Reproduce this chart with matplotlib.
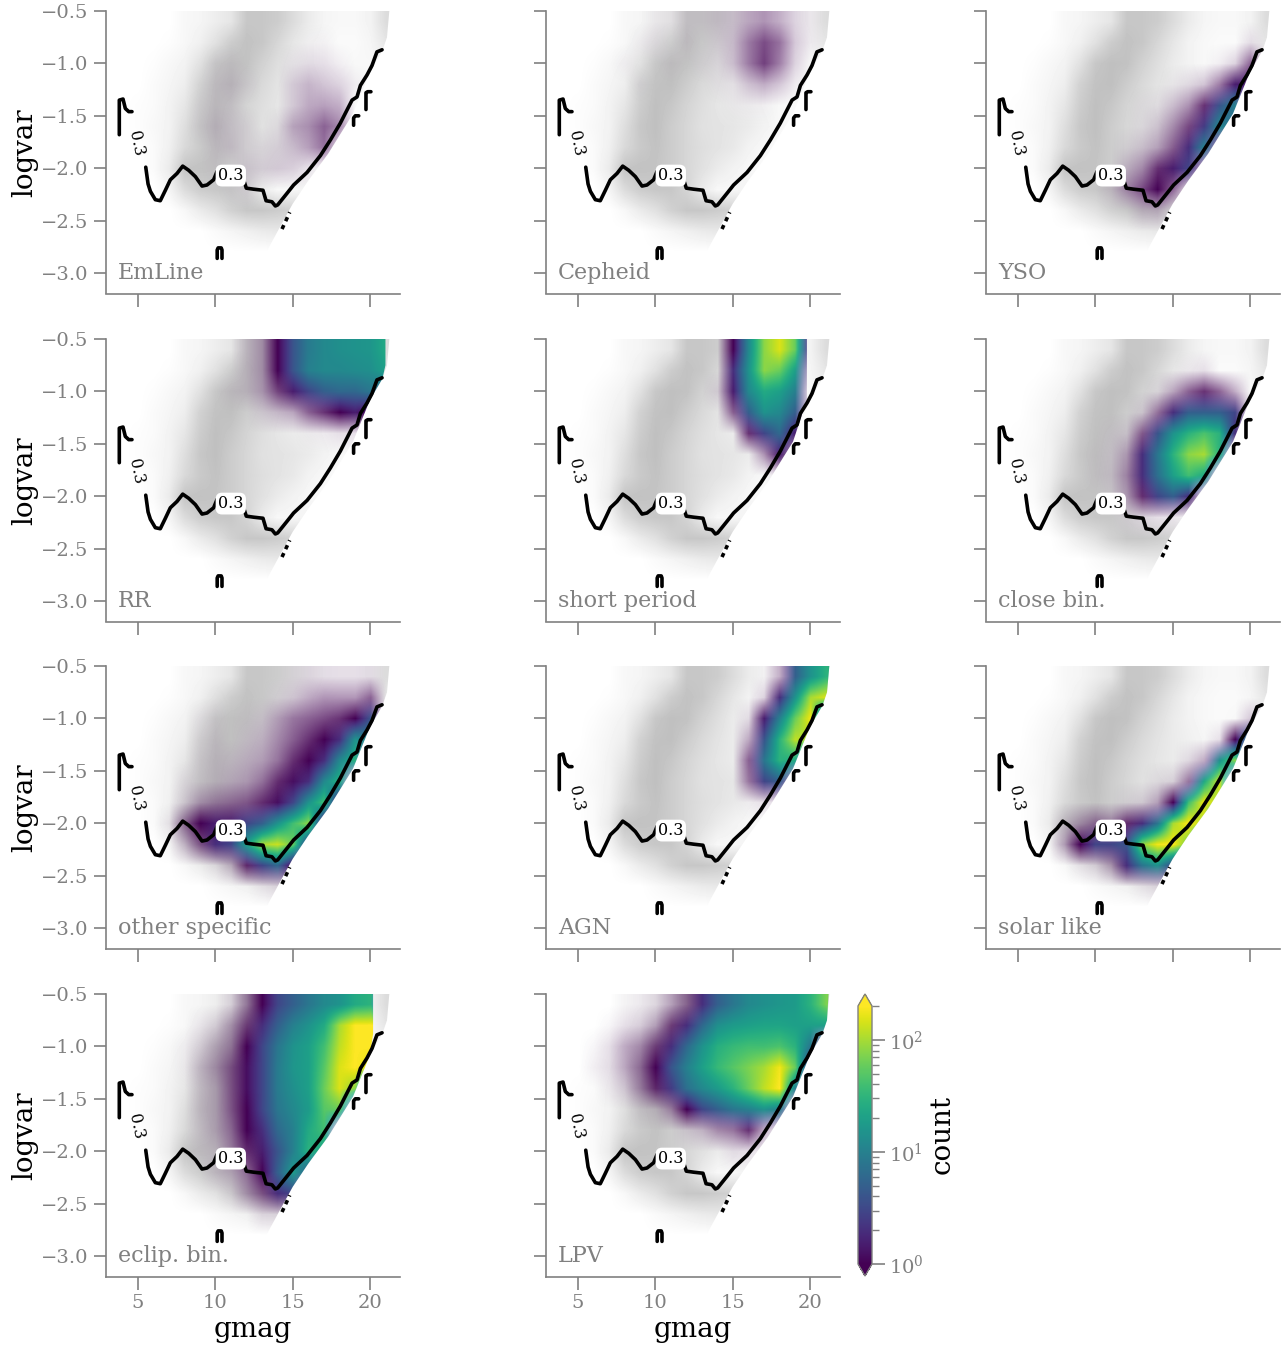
import matplotlib
matplotlib.use('Agg')
import matplotlib.pyplot as plt
import numpy as np
from matplotlib.colors import LogNorm
from matplotlib.patches import Polygon
from matplotlib.cm import ScalarMappable

# grid of the read-off maps: columns gmag 4..21, rows logvar -0.6..-2.8
gmag_edges = [3.5, 21.5]
logvar_edges = [-2.9, -0.5]

# background brightness of the whole sample (1 = nothing there)
bg_level = [
    [1, 1, 1, 1, .97, .96, .93, .90, .78, .78, .80, .86, .92, .96, .97, .97, .95, .86],
    [1, 1, 1, .99, .97, .94, .88, .80, .76, .78, .84, .90, .95, .97, .98, .98, .96, .90],
    [1, 1, .99, .97, .95, .88, .78, .75, .76, .82, .87, .92, .95, .97, .98, .97, .97, .95],
    [1, 1, .98, .96, .93, .82, .76, .75, .80, .85, .89, .92, .94, .96, .97, .97, .97, 1],
    [1, .99, .98, .95, .90, .80, .75, .78, .83, .87, .90, .92, .94, .96, .97, .98, 1, 1],
    [1, .99, .97, .95, .87, .78, .75, .80, .84, .88, .89, .90, .92, .95, .97, .98, 1, 1],
    [1, 1, .98, .94, .85, .79, .76, .80, .84, .87, .89, .91, .95, .97, .98, 1, 1, 1],
    [1, 1, .98, .92, .77, .76, .77, .80, .84, .88, .92, .95, .97, .98, 1, 1, 1, 1],
    [1, 1, 1, .96, .86, .80, .78, .78, .83, .92, .97, .97, .95, .90, 1, 1, 1, 1],
    [1, 1, 1, 1, .97, .92, .88, .82, .78, .78, .80, .82, .88, 1, 1, 1, 1, 1],
    [1, 1, 1, 1, 1, 1, .98, .96, .94, .92, .91, .92, 1, 1, 1, 1, 1, 1],
    [1, 1, 1, 1, 1, 1, 1, 1, 1, 1, 1, 1, 1, 1, 1, 1, 1, 1],
]

# lower edge of the sample
edge_gmag = [2.9, 21.25, 21.1, 20.8, 20.0, 18.9, 17.3, 16.0, 15.0, 14.4, 13.3, 2.9]
edge_logvar = [-0.5, -0.5, -0.75, -0.88, -1.08, -1.48, -1.86, -2.12, -2.34, -2.5, -2.8, -2.8]

# counts per map cell, values below 1 mean only some cells are filled
emline = [
    [0, 0, 0, 0, 0, 0, 0, 0, 0, 0, 0, 0, 0, 0, 0, 0, 0, 0],
    [0, 0, 0, 0, 0, 0, 0, 0, 0, 0, 0, 0, .02, .03, 0, 0, 0, 0],
    [0, 0, 0, 0, 0, 0, .02, .03, 0, 0, 0, .05, .1, .1, .05, 0, 0, 0],
    [0, 0, 0, 0, 0, 0, .05, .08, .04, 0, 0, .15, .25, .2, .15, .05, 0, 0],
    [0, 0, 0, 0, 0, .02, .05, .05, 0, 0, 0, .15, .3, .35, .3, 0, 0, 0],
    [0, 0, 0, 0, 0, .03, .1, .08, .05, 0, .05, .3, .4, .6, .45, 0, 0, 0],
    [0, 0, 0, 0, 0, 0, .06, .1, .05, .05, .1, .2, .35, .55, .1, 0, 0, 0],
    [0, 0, 0, 0, 0, 0, .03, 0, .1, .1, .15, .15, .08, 0, 0, 0, 0, 0],
    [0, 0, 0, 0, 0, 0, 0, .02, .05, 0, 0, 0, 0, 0, 0, 0, 0, 0],
    [0] * 18,
    [0] * 18,
    [0] * 18,
]
cepheid = [
    [0, 0, 0, 0, 0, 0, .03, .03, .05, .05, .1, .15, .3, .4, .3, .15, .05, 0],
    [0, 0, 0, 0, 0, .03, .05, 0, .05, 0, .08, .2, .5, .7, .55, .2, .05, 0],
    [0, 0, 0, 0, .03, 0, 0, .03, 0, .03, .05, .2, .5, .75, .5, .15, 0, 0],
    [0, 0, 0, 0, 0, .02, 0, 0, 0, 0, .03, .05, .2, .3, .2, .05, 0, 0],
    [0, 0, 0, 0, 0, 0, 0, 0, 0, 0, 0, .02, .03, .03, 0, 0, 0, 0],
    [0] * 18,
    [0] * 18,
    [0] * 18,
    [0] * 18,
    [0] * 18,
    [0] * 18,
    [0] * 18,
]
yso = [
    [0] * 18,
    [0, 0, 0, 0, 0, 0, 0, 0, 0, 0, 0, 0, 0, 0, 0, 0, .1, 0],
    [0, 0, 0, 0, 0, 0, 0, 0, 0, 0, 0, 0, 0, 0, .05, .15, .6, 0],
    [0, 0, 0, 0, 0, 0, 0, 0, 0, 0, 0, .03, .1, .2, .5, 1.5, 1.5, 0],
    [0, 0, 0, 0, 0, 0, 0, 0, 0, .03, .05, .2, .4, .8, 4, 10, 0, 0],
    [0, 0, 0, 0, 0, 0, 0, 0, 0, .05, .15, .4, .7, 2.5, 12, 6, 0, 0],
    [0, 0, 0, 0, 0, 0, 0, 0, .05, .15, .3, .6, 2, 10, .5, 0, 0, 0],
    [0, 0, 0, 0, 0, 0, 0, 0, .2, .4, .8, 1.5, 3, .3, 0, 0, 0, 0],
    [0, 0, 0, 0, 0, 0, 0, .1, .4, .7, 1, .6, .05, 0, 0, 0, 0, 0],
    [0, 0, 0, 0, 0, 0, 0, 0, 0, .15, .2, 0, 0, 0, 0, 0, 0, 0],
    [0] * 18,
    [0] * 18,
]
rr = [
    [0, 0, 0, 0, 0, 0, 0, 0, .1, .3, 1, 4, 9, 12, 14, 15, 16, 25],
    [0, 0, 0, 0, 0, 0, 0, 0, .1, .3, 1, 4, 10, 12, 12, 13, 14, 20],
    [0, 0, 0, 0, 0, 0, 0, .05, .1, .3, .7, 1.5, 3, 5, 6, 6, 8, 5],
    [0, 0, 0, 0, 0, 0, 0, 0, 0, .1, .2, .3, .6, .8, 1, 1.5, 1, 0],
    [0, 0, 0, 0, 0, 0, 0, 0, 0, 0, 0, 0, .03, .05, .1, .1, 0, 0],
    [0] * 18,
    [0] * 18,
    [0] * 18,
    [0] * 18,
    [0] * 18,
    [0] * 18,
    [0] * 18,
]
short_period = [
    [0, 0, 0, 0, 0, 0, 0, 0, 0, 0, 0, 1, 12, 80, 150, 60, .8, 0],
    [0, 0, 0, 0, 0, 0, 0, 0, 0, 0, 0, 2, 15, 80, 60, 20, .3, 0],
    [0, 0, 0, 0, 0, 0, 0, 0, 0, 0, .1, 1.5, 12, 25, 20, 10, 0, 0],
    [0, 0, 0, 0, 0, 0, 0, 0, 0, 0, 0, .6, 5, 15, 12, 5, 0, 0],
    [0, 0, 0, 0, 0, 0, 0, 0, 0, 0, 0, 0, .8, 3, 6, 1.5, 0, 0],
    [0, 0, 0, 0, 0, 0, 0, 0, 0, 0, 0, 0, 0, .4, 1.5, .3, 0, 0],
    [0, 0, 0, 0, 0, 0, 0, 0, 0, 0, 0, 0, 0, 0, .1, .05, 0, 0],
    [0] * 18,
    [0] * 18,
    [0] * 18,
    [0] * 18,
    [0] * 18,
]
close_bin = [
    [0] * 18,
    [0, 0, 0, 0, 0, 0, 0, 0, 0, 0, 0, 0, .05, .1, 0, 0, 0, 0],
    [0, 0, 0, 0, 0, 0, 0, 0, 0, 0, .05, .3, .6, .8, .6, .3, 0, 0],
    [0, 0, 0, 0, 0, 0, 0, 0, 0, .1, .5, 2, 5, 5, 5, 3, 0, 0],
    [0, 0, 0, 0, 0, 0, 0, .05, .1, .6, 4, 15, 30, 45, 30, 2, 0, 0],
    [0, 0, 0, 0, 0, 0, .02, .08, .3, 2, 8, 30, 80, 100, 30, 0, 0, 0],
    [0, 0, 0, 0, 0, 0, .03, .1, .4, 2, 7, 20, 40, 25, 0, 0, 0, 0],
    [0, 0, 0, 0, 0, 0, 0, .05, .3, .8, 3, 5, 2, 0, 0, 0, 0, 0],
    [0, 0, 0, 0, 0, 0, 0, 0, .05, .1, .1, .08, 0, 0, 0, 0, 0, 0],
    [0] * 18,
    [0] * 18,
    [0] * 18,
]
other_specific = [
    [0, 0, 0, 0, 0, 0, 0, 0, 0, 0, 0, .05, .1, .1, .1, .1, .1, 0],
    [0, 0, 0, 0, 0, 0, .01, 0, 0, 0, .05, .15, .3, .4, .4, .4, .6, 0],
    [0, 0, 0, 0, 0, .03, .03, 0, .03, .1, .3, .5, .6, .7, .8, 1, 4, 0],
    [0, 0, 0, 0, 0, .03, .06, 0, .1, .2, .4, .6, .8, 1, 2, 15, 10, 0],
    [0, 0, 0, 0, 0, .05, .08, .1, .2, .3, .5, .8, 1, 2, 12, 30, 0, 0],
    [0, 0, 0, 0, .05, .05, .1, .2, .3, .5, .8, 1.2, 2, 12, 30, 0, 0, 0],
    [0, 0, 0, 0, .1, .3, .4, .5, .6, .8, 1.2, 3, 15, 40, 1, 0, 0, 0],
    [0, 0, 0, .05, .5, 1, 1.5, 1.5, 3, 5, 15, 40, 80, 1, 0, 0, 0, 0],
    [0, 0, 0, 0, .2, .6, 2, 3, 20, 100, 130, 60, 2, 0, 0, 0, 0, 0],
    [0, 0, 0, 0, 0, 0, .05, .2, .8, 3, 6, 1, 0, 0, 0, 0, 0, 0],
    [0, 0, 0, 0, 0, 0, 0, 0, 0, .05, .1, 0, 0, 0, 0, 0, 0, 0],
    [0] * 18,
]
agn = [
    [0, 0, 0, 0, 0, 0, 0, 0, 0, 0, 0, 0, 0, .02, .3, 5, 15, 30],
    [0, 0, 0, 0, 0, 0, 0, 0, 0, 0, 0, 0, 0, .15, 2, 15, 100, 150],
    [0, 0, 0, 0, 0, 0, 0, 0, 0, 0, 0, 0, .1, 1.5, 10, 60, 180, 1],
    [0, 0, 0, 0, 0, 0, 0, 0, 0, 0, 0, 0, .3, 4, 30, 120, 100, 0],
    [0, 0, 0, 0, 0, 0, 0, 0, 0, 0, 0, 0, .6, 8, 30, 25, 0, 0],
    [0, 0, 0, 0, 0, 0, 0, 0, 0, 0, 0, 0, .5, 3, 5, .3, 0, 0],
    [0, 0, 0, 0, 0, 0, 0, 0, 0, 0, 0, 0, .03, .1, .1, 0, 0, 0],
    [0] * 18,
    [0] * 18,
    [0] * 18,
    [0] * 18,
    [0] * 18,
]
solar_like = [
    [0] * 18,
    [0] * 18,
    [0, 0, 0, 0, 0, 0, 0, 0, 0, 0, 0, 0, 0, 0, 0, 0, .2, 0],
    [0, 0, 0, 0, 0, 0, 0, 0, 0, 0, 0, 0, 0, 0, .1, 1, 15, 0],
    [0, 0, 0, 0, 0, 0, 0, 0, 0, 0, 0, 0, .1, .3, 15, 80, 0, 0],
    [0, 0, 0, 0, 0, 0, 0, 0, 0, 0, .05, .1, .5, 25, 150, 0, 0, 0],
    [0, 0, 0, 0, 0, 0, 0, 0, .05, .1, .3, 1, 40, 180, 100, 0, 0, 0],
    [0, 0, 0, 0, .1, .3, .5, .4, .8, 2, 8, 100, 200, 100, 0, 0, 0, 0],
    [0, 0, 0, 0, .3, 1, 3, 3, 4, 80, 180, 200, 60, 0, 0, 0, 0, 0],
    [0, 0, 0, 0, 0, .05, .1, .3, 2, 8, 15, 3, 0, 0, 0, 0, 0, 0],
    [0, 0, 0, 0, 0, 0, 0, 0, 0, .05, .1, 0, 0, 0, 0, 0, 0, 0],
    [0] * 18,
]
eclip_bin = [
    [0, 0, 0, 0, 0, 0, 0, .1, .4, 1, 3, 5, 8, 12, 15, 25, 30, 0],
    [0, 0, 0, 0, 0, .05, .1, .3, .7, 2, 5, 10, 15, 25, 100, 200, 200, 200],
    [0, 0, 0, 0, .03, .1, .2, .4, 1, 3, 8, 15, 20, 40, 120, 200, 200, 100],
    [0, 0, 0, 0, .03, .15, .3, .6, 1.2, 3, 9, 16, 20, 50, 150, 200, 150, 0],
    [0, 0, 0, 0, 0, .1, .2, .6, 1.2, 3, 9, 14, 20, 60, 150, 80, 0, 0],
    [0, 0, 0, 0, 0, .1, .2, .6, 1, 3, 8, 12, 18, 50, 60, 0, 0, 0],
    [0, 0, 0, 0, 0, .08, .2, .5, 1, 2, 6, 10, 25, 40, 0, 0, 0, 0],
    [0, 0, 0, 0, 0, .05, .1, .4, .8, 1.5, 4, 10, 30, 20, 0, 0, 0, 0],
    [0, 0, 0, 0, 0, 0, .1, .2, .5, 1, 5, 18, 5, 0, 0, 0, 0, 0],
    [0, 0, 0, 0, 0, 0, 0, .05, .3, .6, 2, 3, 0, 0, 0, 0, 0, 0],
    [0, 0, 0, 0, 0, 0, 0, 0, 0, .1, .1, 0, 0, 0, 0, 0, 0, 0],
    [0] * 18,
]
lpv = [
    [0, 0, 0, 0, .02, .05, .1, .3, .5, 2, 5, 8, 12, 14, 16, 18, 30, 70],
    [0, 0, 0, .03, .1, .15, .3, .7, 2, 6, 14, 18, 20, 22, 22, 20, 20, 20],
    [0, 0, .03, .1, .3, .4, .7, 2, 6, 15, 28, 35, 40, 40, 45, 30, 8, 0],
    [0, 0, .05, .1, .3, .5, 1, 4, 10, 20, 35, 50, 70, 100, 180, 60, 2, 0],
    [0, 0, 0, .05, .15, .4, .8, 2.5, 7, 12, 18, 30, 60, 120, 200, 10, 0, 0],
    [0, 0, 0, 0, 0, .05, .1, .4, 1, 3, 5, 8, 10, 15, 10, 0, 0, 0],
    [0, 0, 0, 0, 0, 0, 0, 0, .1, .2, .4, .5, .8, .3, 0, 0, 0, 0],
    [0, 0, 0, 0, 0, 0, 0, 0, 0, 0, 0, .1, .1, .05, 0, 0, 0, 0],
    [0] * 18,
    [0] * 18,
    [0] * 18,
    [0] * 18,
]

class_names = ['EmLine', 'Cepheid', 'YSO', 'RR', 'short period', 'close bin.',
               'other specific', 'AGN', 'solar like', 'eclip. bin.', 'LPV']
class_maps = [emline, cepheid, yso, rr, short_period, close_bin,
              other_specific, agn, solar_like, eclip_bin, lpv]
# faintest gmag reached by each class
class_gmag_max = [21.3, 21.3, 21.3, 21.0, 19.8, 21.3, 21.3, 21.3, 21.3, 20.2, 21.2]

contour_gmag = [
    [3.79, 3.79, 4.03, 4.18, 4.40, 4.61],
    [5.50, 5.65, 5.80, 6.12, 6.44, 6.77, 7.09, 7.52, 7.89, 8.28, 8.71, 9.14, 9.46, 9.89, 10.11],
    [11.83, 12.0, 12.48, 13.08, 13.28, 13.66, 13.88, 14.03, 14.63, 15.06, 15.93, 16.79, 17.44,
     18.08, 18.84, 19.16, 19.38, 19.81, 20.13, 20.45, 20.78],
    [10.12, 10.12, 10.18, 10.38, 10.43, 10.43],
    [18.94, 18.94, 19.05, 19.27],
    [19.74, 19.74, 19.85, 20.06],
]
contour_logvar = [
    [-1.68, -1.35, -1.34, -1.43, -1.46, -1.46],
    [-1.99, -2.15, -2.22, -2.30, -2.31, -2.21, -2.11, -2.05, -1.98, -2.02, -2.08, -2.17, -2.16, -2.11, -2.03],
    [-2.11, -2.19, -2.20, -2.21, -2.31, -2.32, -2.36, -2.35, -2.24, -2.16, -2.04, -1.88, -1.73,
     -1.57, -1.35, -1.32, -1.21, -1.11, -1.02, -0.89, -0.87],
    [-2.86, -2.78, -2.76, -2.76, -2.78, -2.86],
    [-1.59, -1.52, -1.50, -1.50],
    [-1.44, -1.28, -1.27, -1.27],
]
dash_gmag = [14.31, 14.81]
dash_logvar = [-2.58, -2.42]

xticks = [5, 10, 15, 20]
yticks = [-0.5, -1.0, -1.5, -2.0, -2.5, -3.0]

plt.rcParams['font.family'] = 'DejaVu Serif'
plt.rcParams['mathtext.fontset'] = 'dejavuserif'
W, H = 1282, 1349
grey = '#808080'
fig = plt.figure(figsize=(W / 100, H / 100), dpi=100)
lefts = [106, 546, 986]
tops = [11, 339, 666, 994]
ext = gmag_edges + logvar_edges

for i, (name, counts) in enumerate(zip(class_names, class_maps)):
    r, c = i // 3, i % 3
    ax = fig.add_axes([lefts[c] / W, 1 - (tops[r] + 282.5) / H, 294 / W, 282.5 / H])
    clip = Polygon(np.column_stack([edge_gmag, edge_logvar]), transform=ax.transData)
    im = ax.imshow(bg_level, cmap='gray', vmin=0, vmax=1, extent=ext, aspect='auto',
                   interpolation='bilinear')
    im.set_clip_path(clip)
    z = np.array(counts, dtype=float)
    im2 = ax.imshow(np.log10(np.clip(z, 1, None)), cmap='viridis', vmin=0, vmax=np.log10(200),
                    extent=ext, aspect='auto', interpolation='bilinear',
                    alpha=np.clip(z, 0, 1))
    clip2 = Polygon(np.column_stack([np.minimum(edge_gmag, class_gmag_max[i]), edge_logvar]),
                    transform=ax.transData)
    im2.set_clip_path(clip2)

    for xs, ys in zip(contour_gmag, contour_logvar):
        ax.plot(xs, ys, color='k', lw=2.6, solid_capstyle='round')
    ax.plot(dash_gmag, dash_logvar, color='k', lw=2.6, ls=(0, (1.2, 1.2)))
    box = dict(boxstyle='round,pad=0.15,rounding_size=0.4', fc='white', ec='none')
    ax.text(11.0, -2.07, '0.3', fontsize=11.5, ha='center', va='center', bbox=box)
    ax.text(4.9, -1.76, '0.3', fontsize=11.5, ha='center', va='center', rotation=-78)
    ax.text(3.7, -3.0, name, fontsize=16, color=grey, ha='left', va='center')

    ax.set_xlim(2.93, 21.94)
    ax.set_ylim(-3.195, -0.5)
    ax.set_xticks(xticks)
    ax.set_yticks(yticks)
    ax.spines['top'].set_visible(False)
    ax.spines['right'].set_visible(False)
    ax.spines['left'].set_color(grey)
    ax.spines['bottom'].set_color(grey)
    ax.spines['left'].set_linewidth(1.2)
    ax.spines['bottom'].set_linewidth(1.2)
    ax.tick_params(length=9, width=1.2, color=grey, labelcolor=grey, labelsize=14,
                   labelleft=(c == 0), labelbottom=(i >= 9))
    if c == 0:
        ax.set_ylabel('logvar', fontsize=20, labelpad=2)
    if i >= 9:
        ax.set_xlabel('gmag', fontsize=20, labelpad=3)

# colorbar, its axes include the two end triangles
cax = fig.add_axes([858 / W, 1 - 1276 / H, 14 / W, 282 / H])
cb = fig.colorbar(ScalarMappable(norm=LogNorm(1, 200), cmap='viridis'), cax=cax, extend='both',
                  extendfrac=0.0465)
cb.outline.set_edgecolor(grey)
cb.outline.set_linewidth(1.0)
cb.ax.tick_params(which='major', length=9, width=1.2, color=grey, labelcolor=grey, labelsize=14)
cb.ax.tick_params(which='minor', length=5, width=1.0, color=grey)
cb.set_label('count', fontsize=20, labelpad=3)

fig.savefig('out.png', dpi=100)
